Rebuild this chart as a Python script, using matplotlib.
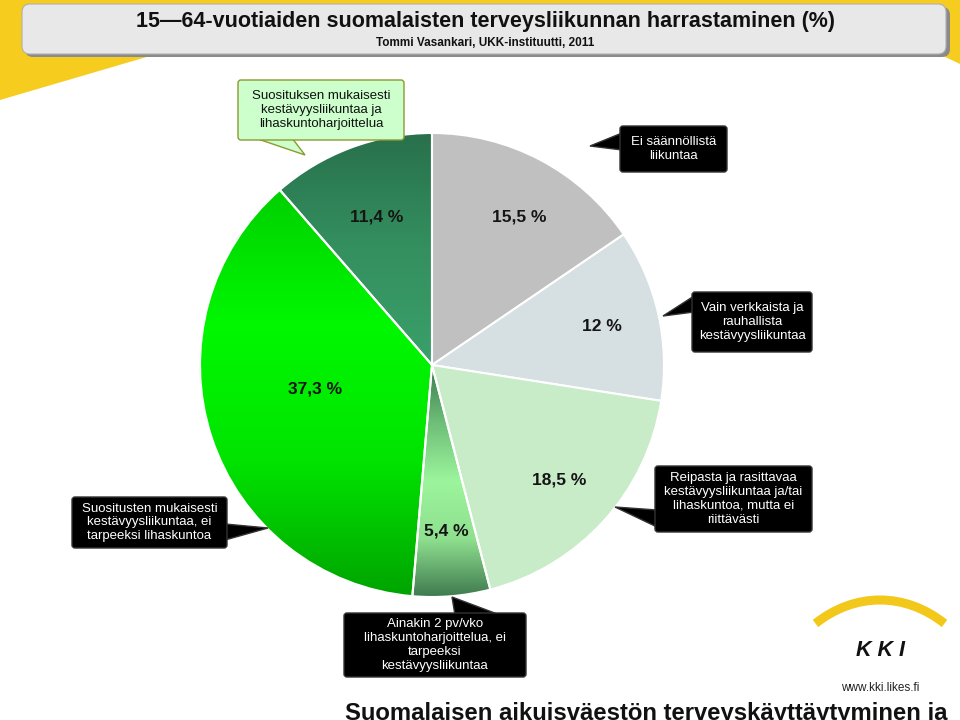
import numpy as np
import matplotlib.pyplot as plt
from matplotlib.patches import FancyBboxPatch, Polygon, Arc
from matplotlib.colors import LinearSegmentedColormap

plt.rcParams['font.family'] = ['Liberation Sans', 'DejaVu Sans']

title = "15\u201464-vuotiaiden suomalaisten terveysliikunnan harrastaminen (%)"
subtitle = "Tommi Vasankari, UKK-instituutti, 2011"
footer = "Suomalaisen aikuisväestön terveyskäyttäytyminen ja"

# slices clockwise from 12 o'clock
values = [15.5, 12, 18.5, 5.4, 37.3, 11.4]
pct_labels = ["15,5 %", "12 %", "18,5 %", "5,4 %", "37,3 %", "11,4 %"]
categories = [
    "Ei säännöllistä\nliikuntaa",
    "Vain verkkaista ja\nrauhallista\nkestävyysliikuntaa",
    "Reipasta ja rasittavaa\nkestävyysliikuntaa ja/tai\nlihaskuntoa, mutta ei\nriittävästi",
    "Ainakin 2 pv/vko\nlihaskuntoharjoittelua, ei\ntarpeeksi\nkestävyysliikuntaa",
    "Suositusten mukaisesti\nkestävyysliikuntaa, ei\ntarpeeksi lihaskuntoa",
    "Suosituksen mukaisesti\nkestävyysliikuntaa ja\nlihaskuntoharjoittelua",
]
flat_colors = ["#c0c0c0", "#d6e0e3", "#c8ebc8", "#7ccf80", "#00e000", "#2f8a5e"]
gradients = {
    3: ["#3b7a50", "#6fbf78", "#9cf59c", "#8fe08f", "#3f7a4f"],
    4: ["#00d000", "#00f800", "#00e400", "#00a400"],
    5: ["#28704c", "#34905f", "#3aa06a"],
}
label_dist = [0.74, 0.75, 0.74, 0.72, 0.515, 0.68]
label_turn = [-2.6, 0, 0, 0, -6.7, 0]

H = 720
cx, cy, R = 432, 365, 232


def Y(y):
    return H - y


fig = plt.figure(figsize=(9.6, 7.2), dpi=100)
ax = fig.add_axes([0, 0, 1, 1])

# background
ax.add_patch(Polygon([(0, Y(0)), (960, Y(0)), (960, Y(64)), (935, Y(52)),
                      (150, Y(56)), (0, Y(100))], closed=True,
                     fc="#f6cd1e", ec="none", zorder=0))

# title box
ax.add_patch(FancyBboxPatch((25, Y(57)), 925, 50, boxstyle="round,pad=0,rounding_size=8",
                            fc="#8a8a8a", ec="none", zorder=1))
ax.add_patch(FancyBboxPatch((22, Y(54)), 924, 50, boxstyle="round,pad=0,rounding_size=8",
                            fc="#e8e8e8", ec="#b0b0b0", lw=0.8, zorder=2))
ax.text(485, Y(22), title, ha="center", va="center", fontsize=15.5,
        fontweight="bold", color="#111111", zorder=3)
ax.text(485, Y(43), subtitle, ha="center", va="center", fontsize=8.5,
        fontweight="bold", color="#111111", zorder=3)

# pie
wedges, _ = ax.pie(values, startangle=90, counterclock=False, center=(cx, Y(cy)),
                   radius=R, colors=flat_colors,
                   wedgeprops=dict(edgecolor="white", linewidth=1.5))
for w in wedges:
    w.set_zorder(4)

for i, cols in gradients.items():
    w = wedges[i]
    cmap = LinearSegmentedColormap.from_list("g%d" % i, cols)
    bb = w.get_path().get_extents()
    grad = np.linspace(0, 1, 256).reshape(-1, 1)
    im = ax.imshow(grad, cmap=cmap, aspect="auto", origin="upper",
                   extent=(bb.x0, bb.x1, bb.y0, bb.y1), zorder=3.5)
    im.set_clip_path(w)
    w.set_facecolor("none")

for w, lab, d, t in zip(wedges, pct_labels, label_dist, label_turn):
    a = np.deg2rad((w.theta1 + w.theta2) / 2 + t)
    ax.text(cx + d * R * np.cos(a), Y(cy) + d * R * np.sin(a), lab,
            ha="center", va="center", fontsize=12.5, fontweight="bold",
            color="#151515", zorder=6)


def callout(box, tip, base, text, fc="black", ec="#333333", tc="white"):
    x0, y0, x1, y1 = box
    pts = [(base[0][0], Y(base[0][1])), (tip[0], Y(tip[1])), (base[1][0], Y(base[1][1]))]
    ax.add_patch(Polygon(pts, closed=True, fc=fc, ec=ec, lw=1, zorder=7))
    ax.add_patch(FancyBboxPatch((x0, Y(y1)), x1 - x0, y1 - y0,
                                boxstyle="round,pad=0,rounding_size=3",
                                fc=fc, ec=ec, lw=1, zorder=8))
    ax.text((x0 + x1) / 2, Y((y0 + y1) / 2), text, ha="center", va="center",
            fontsize=9.5, color=tc, linespacing=1.2, zorder=9)


callout((620, 126, 727, 172), (590, 146), [(622, 133), (622, 150)], categories[0])
callout((692, 292, 812, 352), (663, 316), [(694, 296), (694, 312)], categories[1])
callout((655, 466, 812, 532), (615, 507), [(657, 510), (657, 527)], categories[2])
callout((344, 613, 526, 677), (452, 597), [(455, 615), (500, 615)], categories[3])
callout((72, 497, 227, 548), (268, 528), [(225, 524), (225, 540)], categories[4])
callout((238, 80, 404, 140), (305, 155), [(255, 138), (292, 138)], categories[5],
        fc="#ccffcc", ec="#8c9a2e", tc="#111111")

# logo
ax.add_patch(Arc((880, Y(750)), 240, 300, theta1=63, theta2=117, lw=6.5,
                 color="#f2c81a", zorder=2))
ax.text(881, Y(651), "K K I", ha="center", va="center", fontsize=15.5,
        fontweight="bold", style="italic", color="#111111", zorder=3)
ax.text(880, Y(688), "www.kki.likes.fi", ha="center", va="center", fontsize=8.5,
        color="#222222", zorder=3)

ax.text(345, Y(702), footer, ha="left", va="top", fontsize=17.2,
        fontweight="bold", color="#111111", zorder=3)

ax.set_xlim(0, 960)
ax.set_ylim(0, 720)
ax.set_aspect("equal")
ax.axis("off")

fig.savefig("out.png", dpi=100)
